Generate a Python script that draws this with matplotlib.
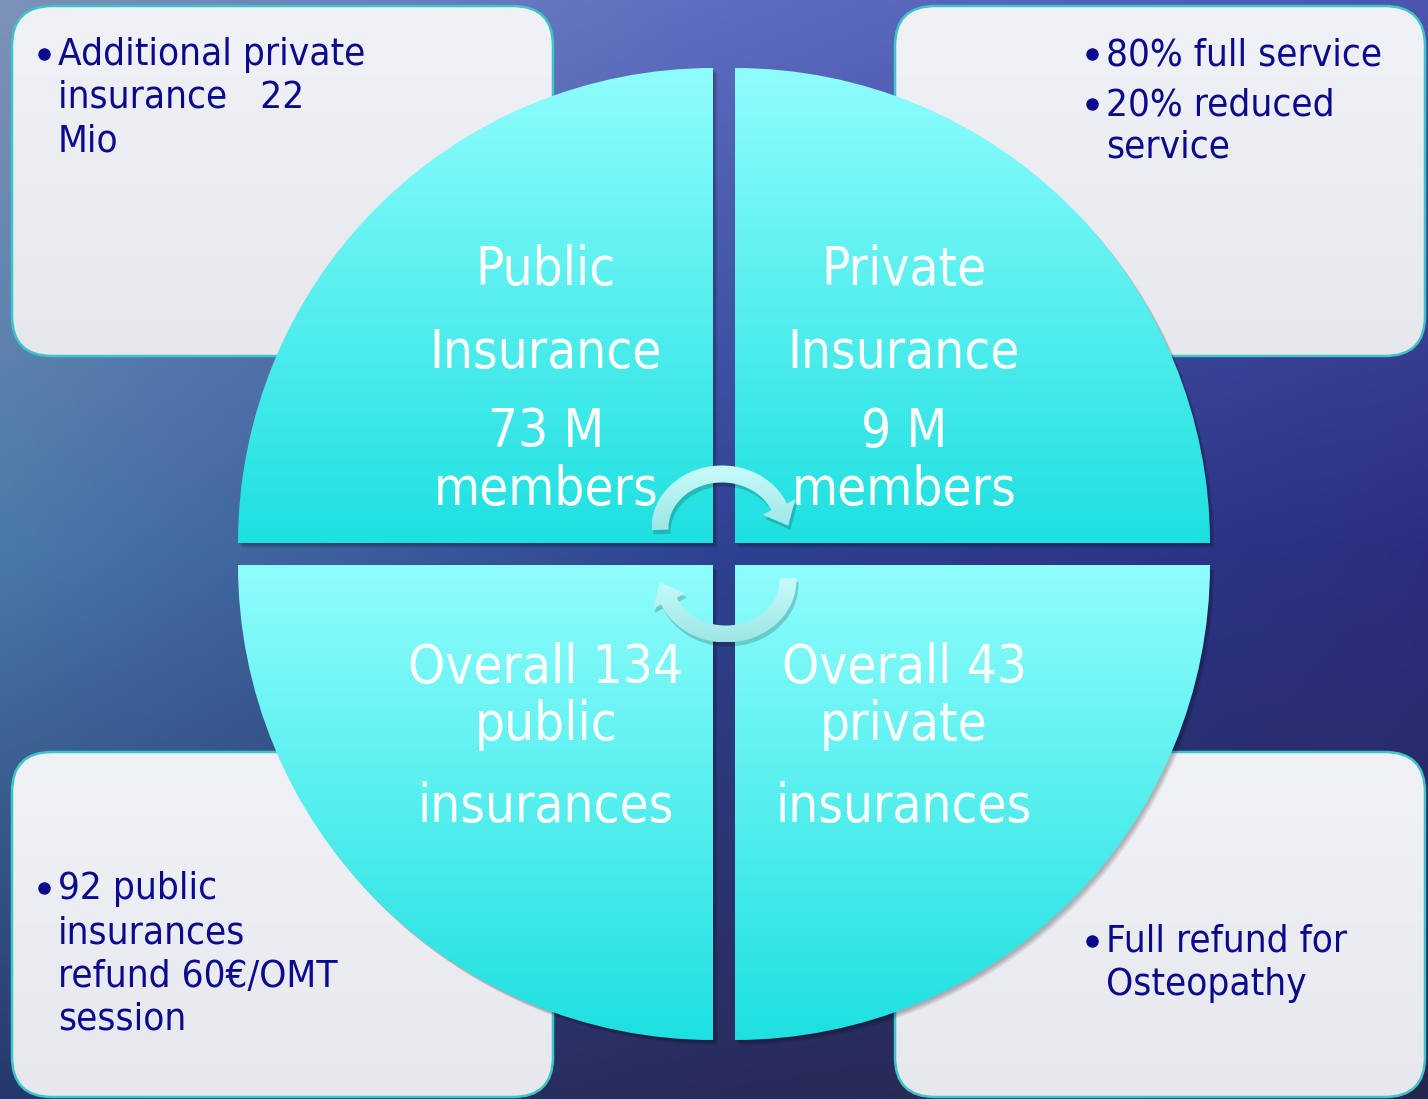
import numpy as np
import matplotlib
matplotlib.use("Agg")
import matplotlib.pyplot as plt
from matplotlib import font_manager as fm
from matplotlib.patches import Wedge, FancyBboxPatch, Polygon
from matplotlib.colors import to_rgb


# Daten
INSURANCE_TYPES = ["Public", "Private"]
MEMBERS_M = [73, 9]            # Mitglieder in Mio
INSURER_COUNT = [134, 43]      # Anzahl Versicherungen
EXTRA_PRIVATE_MIO = 22         # private Zusatzversicherung
SERVICE_SHARE = [80, 20]       # Anteil in %
SERVICE_KIND = ["full service", "reduced\nservice"]
REFUND_INSURERS = 92
REFUND_EUR = 60

# Bild
W, H = 1428, 1099
DPI = 100
OUT_FILE = "out.png"

# Farben
NAVY = "#0a0a8c"
BOX_FACE_TOP = "#f1f2f8"
BOX_FACE_BOTTOM = "#e7e7ee"
BOX_EDGE = "#3cc6c8"
QUAD_TOP = "#8ffdfd"
QUAD_BOTTOM = "#1ee0e0"
ARROW_TOP = "#c8fcfc"
ARROW_BOTTOM = "#9ee5e5"

# Hintergrund (Meer) als 3x3 Farbraster
BG_GRID = [
    ["#7d92b8", "#5e6ec2", "#4b56ae"],
    ["#4a7aa8", "#2e4292", "#2b2e80"],
    ["#24386e", "#292b5a", "#25264f"],
]

# Schrift: Tahoma-Ersatz
_path = fm.findfont(fm.FontProperties(family="DejaVu Sans", stretch="condensed"))
CONDENSED = "condensed" in _path.lower()
STRETCH = "condensed" if CONDENSED else "normal"
BOX_FS = 27.7 if CONDENSED else 25
QUAD_FS = 38 if CONDENSED else 34.5


def background(ax):
    g = np.array([[to_rgb(c) for c in row] for row in BG_GRID])
    fy = np.linspace(0, 2, H)[:, None]
    fx = np.linspace(0, 2, W)[None, :]
    iy = np.clip(fy.astype(int), 0, 1)
    ix = np.clip(fx.astype(int), 0, 1)
    ty = (fy - iy)[..., None]
    tx = (fx - ix)[..., None]
    img = ((1 - ty) * (1 - tx) * g[iy, ix] + (1 - ty) * tx * g[iy, ix + 1]
           + ty * (1 - tx) * g[iy + 1, ix] + ty * tx * g[iy + 1, ix + 1])
    ax.imshow(img, extent=(0, W, H, 0), origin="upper", aspect="auto", zorder=0)


def gradient_fill(ax, patch, x0, x1, y0, y1, c_top, c_bottom, zorder):
    patch.set_facecolor("none")
    patch.set_edgecolor("none")
    ax.add_patch(patch)
    t = np.linspace(0, 1, 256)[:, None, None]
    img = (1 - t) * np.array(to_rgb(c_top)) + t * np.array(to_rgb(c_bottom))
    im = ax.imshow(img, extent=(x0, x1, y1, y0), origin="upper", aspect="auto",
                   zorder=zorder, interpolation="bilinear")
    im.set_clip_path(patch)


def arc_arrow(cx, cy, rx, ry, w, a_start, a_end, head_w, head_len, n=80):
    """Bogenpfeil (Winkel y-oben, Laufrichtung im Uhrzeigersinn)."""
    th = np.radians(np.linspace(a_start, a_end, n))
    outer = np.c_[cx + (rx + w / 2) * np.cos(th), cy - (ry + w / 2) * np.sin(th)]
    inner = np.c_[cx + (rx - w / 2) * np.cos(th), cy - (ry - w / 2) * np.sin(th)]
    te = th[-1]
    tang = np.array([rx * np.sin(te), ry * np.cos(te)])
    tang /= np.linalg.norm(tang)
    normal = np.array([tang[1], -tang[0]])
    base = np.array([cx + rx * np.cos(te), cy - ry * np.sin(te)])
    wing_a = base + normal * head_w / 2
    wing_b = base - normal * head_w / 2
    tip = base + tang * head_len
    return np.vstack([outer, wing_a, tip, wing_b, inner[::-1]])


def main():
    fig = plt.figure(figsize=(W / DPI, H / DPI), dpi=DPI)
    ax = fig.add_axes([0, 0, 1, 1])

    background(ax)

    # Eckboxen
    boxes = [(12, 6, 541, 350), (895, 6, 530, 350), (12, 752, 541, 345), (895, 752, 530, 345)]
    for x, y, bw, bh in boxes:
        style = "round,pad=0,rounding_size=40"
        fill = FancyBboxPatch((x, y), bw, bh, boxstyle=style)
        gradient_fill(ax, fill, x, x + bw, y, y + bh, BOX_FACE_TOP, BOX_FACE_BOTTOM, 1)
        ax.add_patch(FancyBboxPatch((x, y), bw, bh, boxstyle=style, facecolor="none",
                                    edgecolor=BOX_EDGE, linewidth=1.8, zorder=1.5))

    # Kreisviertel
    cx, cy, gap, r = 724, 554, 22, 475
    quads = [
        (cx - gap / 2, cy - gap / 2, 180, 270),
        (cx + gap / 2, cy - gap / 2, 270, 360),
        (cx - gap / 2, cy + gap / 2, 90, 180),
        (cx + gap / 2, cy + gap / 2, 0, 90),
    ]
    for qx, qy, t1, t2 in quads:
        for k in range(4):
            ax.add_patch(Wedge((qx + 1.5 + k, qy + 2 + k), r, t1, t2,
                               facecolor="black", edgecolor="none", alpha=0.07, zorder=2))
        left = qx - r if t1 in (90, 180) else qx
        top = qy - r if t1 in (180, 270) else qy
        wedge = Wedge((qx, qy), r, t1, t2)
        gradient_fill(ax, wedge, left, left + r, top, top + r, QUAD_TOP, QUAD_BOTTOM, 3)

    # Texte in den Vierteln
    quad_font = dict(color="white", fontsize=QUAD_FS, ha="center", va="baseline",
                     family="DejaVu Sans", fontstretch=STRETCH, zorder=4)
    upper_y = [285, 368, 447, 505]
    lower_y = [683, 740, 822]
    for i, qx in enumerate([546, 904]):
        lines = [INSURANCE_TYPES[i], "Insurance", f"{MEMBERS_M[i]} M", "members"]
        for txt, y in zip(lines, upper_y):
            ax.text(qx, y, txt, **quad_font)
        lines = [f"Overall {INSURER_COUNT[i]}", INSURANCE_TYPES[i].lower(), "insurances"]
        for txt, y in zip(lines, lower_y):
            ax.text(qx, y, txt, **quad_font)

    # Texte in den Boxen: (text, baseline, bullet)
    box_font = dict(color=NAVY, fontsize=BOX_FS, ha="left", va="baseline",
                    family="DejaVu Sans", fontstretch=STRETCH, zorder=2.5)
    s_full, s_red = SERVICE_KIND[1].split("\n")
    box_texts = [
        (58, [("Additional private", 65, True),
              (f"insurance   {EXTRA_PRIVATE_MIO}", 108, False),
              ("Mio", 151, False)]),
        (1106, [(f"{SERVICE_SHARE[0]}% {SERVICE_KIND[0]}", 65, True),
                (f"{SERVICE_SHARE[1]}% {s_full}", 115, True),
                (s_red, 158, False)]),
        (58, [(f"{REFUND_INSURERS} public", 899, True),
              ("insurances", 943, False),
              (f"refund {REFUND_EUR}€/OMT", 987, False),
              ("session", 1030, False)]),
        (1106, [("Full refund for", 952, True),
                ("Osteopathy", 995, False)]),
    ]
    for tx, lines in box_texts:
        for txt, y, bullet in lines:
            ax.text(tx, y, txt, **box_font)
            if bullet:
                ax.plot(tx - 14.5, y - 11.5, "o", ms=9, color=NAVY, mec="none", zorder=2.5)

    # Kreispfeile in der Mitte
    top_arrow = arc_arrow(722, 528, 62, 54, 17, 182, 23, 36, 21)
    bottom_arrow = np.c_[2 * cx - top_arrow[:, 0], 2 * cy - top_arrow[:, 1]]
    for pts in (top_arrow, bottom_arrow):
        ax.add_patch(Polygon(pts + [2, 4], closed=True, facecolor="black",
                             edgecolor="none", alpha=0.18, zorder=5))
        poly = Polygon(pts, closed=True)
        gradient_fill(ax, poly, pts[:, 0].min(), pts[:, 0].max(),
                      pts[:, 1].min(), pts[:, 1].max(), ARROW_TOP, ARROW_BOTTOM, 6)

    ax.set_xlim(0, W)
    ax.set_ylim(H, 0)
    ax.axis("off")

    fig.savefig(OUT_FILE, dpi=DPI)
    plt.close(fig)


if __name__ == "__main__":
    main()
